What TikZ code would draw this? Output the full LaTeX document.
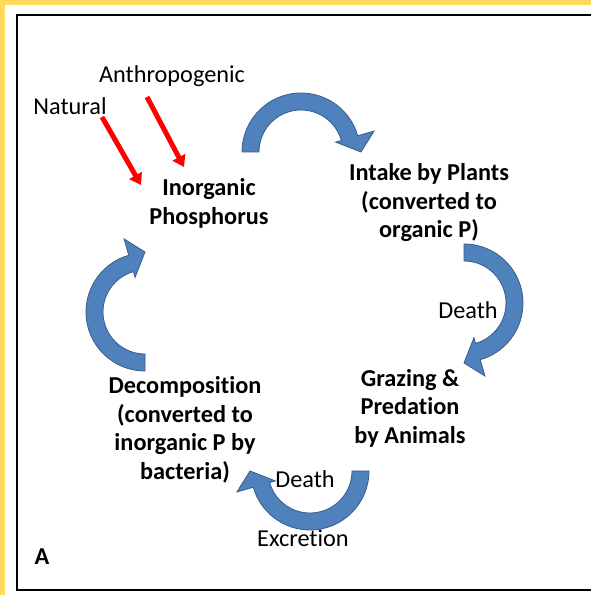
\documentclass[tikz,border=0pt]{standalone}
\usepackage{fontspec}
\setmainfont{Carlito}[Ligatures={NoCommon}]
\usetikzlibrary{arrows.meta}
\definecolor{frameyellow}{RGB}{255,216,94}
\definecolor{arrowfill}{RGB}{79,129,189}
\definecolor{arrowedge}{RGB}{56,93,138}
\tikzset{
  cyclearrow/.style={fill=arrowfill, draw=arrowedge, line width=0.8pt, line join=miter},
  redarrow/.style={draw=red, line width=5pt, -{Triangle[width=14pt,length=11pt]}},
  mainlabel/.style={font=\fontsize{24.3}{28.5}\selectfont\bfseries, align=center, inner sep=0pt},
  sidelabel/.style={font=\fontsize{24.3}{28.5}\selectfont, inner sep=0pt},
  frameline/.style={draw=black, line width=2.5pt},
}
\newcommand{\CycArrow}[3]{%
  \begin{scope}[shift={(#1,#2)}]
    \pgfmathsetmacro\tipang{#3-180}
    \pgfmathsetmacro\baseang{#3-164}
    \filldraw[cyclearrow] (#3:59) arc[start angle=#3, end angle=\baseang, radius=59]
      -- (\baseang:76) -- (\tipang:60) -- (\baseang:36) -- (\baseang:42)
      arc[start angle=\baseang, end angle=#3, radius=42] -- cycle;
  \end{scope}}
\begin{document}
\begin{tikzpicture}[x=1pt,y=1pt]
  \useasboundingbox (0,0) rectangle (591,595);
  \fill[white] (0,0) rectangle (591,595);
  % yellow border
  \fill[frameyellow] (0,590) rectangle (591,595);
  \fill[frameyellow] (0,0) rectangle (5,595);
  % black frame
  \draw[frameline] (592,580) -- (17,580) -- (17,5) -- (592,5);

  % labels
  \node[mainlabel] (inorg) at (209,391.5) {Inorganic\\Phosphorus};
  \node[mainlabel] (intake) at (429,392) {Intake by Plants\\(converted to\\organic P)};
  \node[mainlabel] (graze) at (410,187) {Grazing \&\\Predation\\by Animals};
  \node[mainlabel] (decomp) at (185,165) {Decomposition\\(converted to\\inorganic P by\\bacteria)};
  \node[sidelabel] (anthro) at (172,519) {Anthropogenic};
  \node[sidelabel] (natural) at (70,489) {Natural};
  \node[sidelabel] (death1) at (468,285) {Death};
  \node[sidelabel] (death2) at (305,116) {Death};
  \node[sidelabel] (excr) at (303,57) {Excretion};
  \node[mainlabel] (lblA) at (42,38) {A};

  % cycle arrows
  \CycArrow{301}{443}{180}
  \CycArrow{464}{292}{90}
  \CycArrow{310}{124}{0}
  \CycArrow{145}{283}{-90}

  % red input arrows
  \coordinate (anthroS) at (147,498);
  \coordinate (anthroE) at (184,428);
  \coordinate (natS) at (102,478);
  \coordinate (natE) at (141,410);
  \draw[redarrow] (anthroS) -- (anthroE);
  \draw[redarrow] (natS) -- (natE);
\end{tikzpicture}
\end{document}
